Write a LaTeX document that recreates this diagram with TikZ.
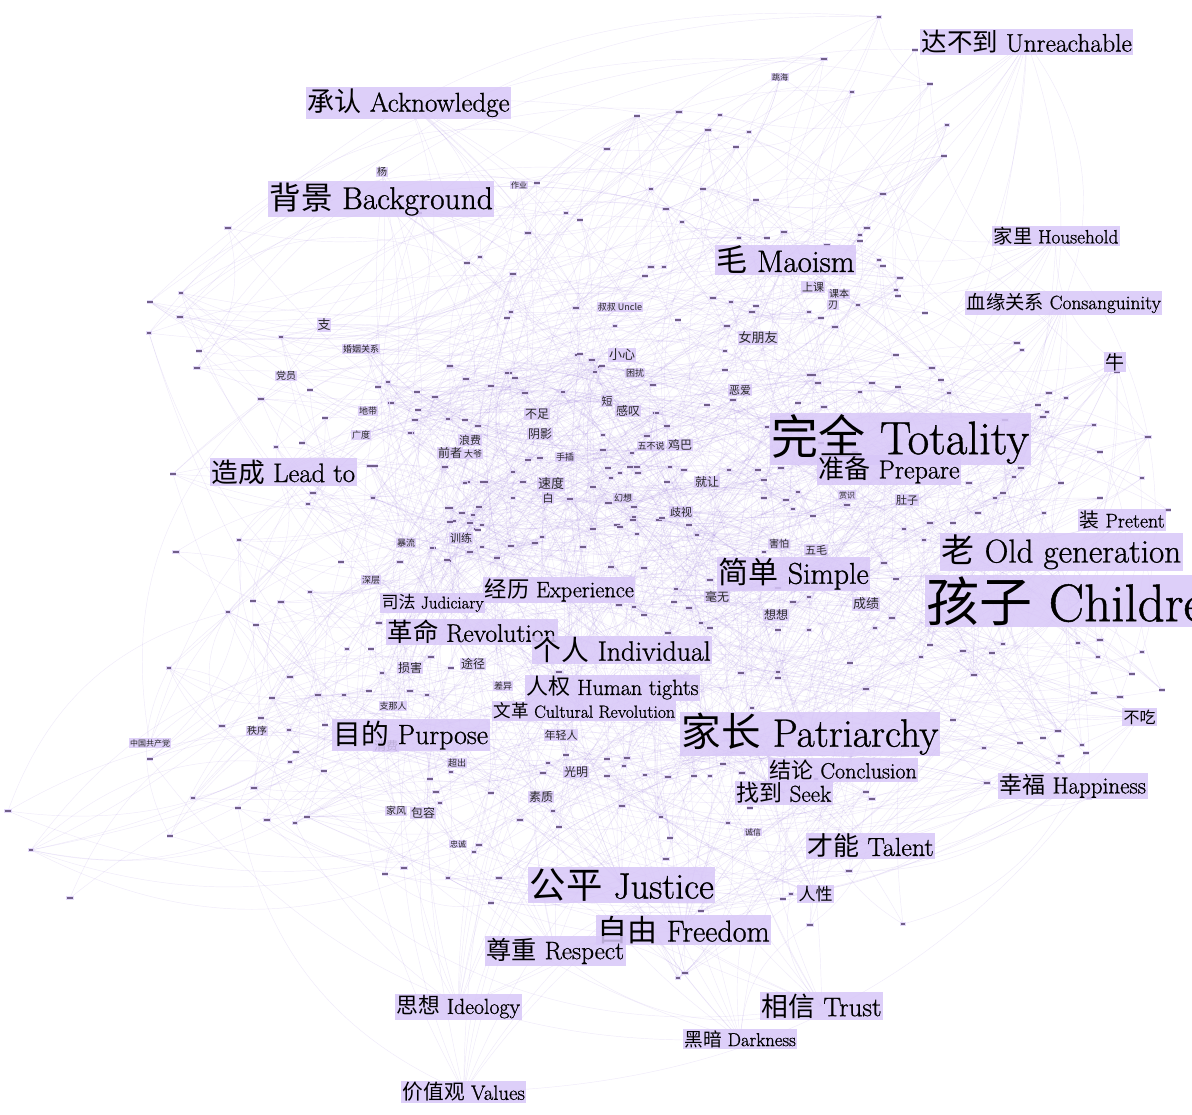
\documentclass[tikz,border=0pt]{standalone}
\usepackage{fontspec}
\setmainfont{Latin Modern Roman}[FakeBold=0.9]
\newfontfamily\cjk{Noto Sans CJK SC}
\pgfdeclarelayer{back}
\pgfdeclarelayer{bg}
\pgfsetlayers{back,bg,main}
\definecolor{boxc}{RGB}{216,199,248}
\definecolor{tinyc}{RGB}{226,214,250}
\definecolor{edgec}{RGB}{160,130,226}
\definecolor{smudge}{RGB}{85,65,110}
\newcommand\fsz[1]{\fontsize{#1}{#1}\selectfont}
\newcommand\zh[1]{{\cjk #1}}
\begin{document}
\begin{tikzpicture}[x=1pt,y=-1pt,
  lbl/.style={fill=boxc, fill opacity=0.85, text opacity=1, inner sep=1.5pt, anchor=west, text=black},
  midl/.style={fill=boxc, fill opacity=0.8, text opacity=1, inner sep=0.8pt, text=black!85},
  tinyn/.style={fill=tinyc, fill opacity=0.9, text opacity=0.8, inner sep=0.8pt, text=smudge},
  edge/.style={draw=edgec, line width=0.45pt, opacity=0.17}]
\useasboundingbox (0,0) rectangle (1192,1115);
\begin{pgfonlayer}{back}
\fill[white] (0,0) rectangle (1192,1115);
\end{pgfonlayer}

% ---------- tiny nodes ----------
\foreach \x/\y [count=\i] in {
537/183,228/228,566/213,580/220,528/233,480/257,467/263,513/274,181/293,150/302,180/317,149/333,199/351,197/368,281/337,419/213,450/367,511/312,507/318,576/308,577/355,591/360,509/373,
879/17,915/50,824/59,852/92,930/84,679/112,720/115,637/116,708/130,749/132,736/147,607/149,947/125,944/156,883/194,651/189,703/189,666/209,682/222,756/200,867/228,860/235,860/241,784/232,739/238,767/238,827/245,879/260,883/266,651/267,664/267,645/276,900/278,896/290,898/296,713/298,731/302,756/306,752/312,809/312,821/318,835/327,858/305,678/320,727/326,615/326,925/313,1017/343,1022/350,896/355,932/368,725/351,725/370,810/375,600/367,
310/390,261/399,390/403,325/418,411/433,276/447,302/443,370/466,444/468,173/474,313/493,308/504,373/497,467/482,486/482,528/460,565/458,451/508,479/507,453/521,476/529,433/548,448/561,468/553,497/557,511/546,543/537,534/544,176/552,239/540,341/562,400/562,310/592,253/601,281/602,228/612,256/625,379/623,347/649,371/649,431/657,382/673,451/668,290/677,169/668,272/698,318/695,344/695,369/691,410/691,427/695,261/718,222/726,289/730,325/725,559/672,551/713,
150/759,296/752,290/762,324/771,254/788,193/798,238/808,267/820,295/823,307/817,8/811,31/850,170/836,70/898,451/772,430/779,436/792,440/803,491/793,520/820,553/811,559/827,543/773,548/763,566/755,479/845,474/852,385/874,404/868,448/878,491/903,499/878,
984/748,1020/743,1061/756,1058/763,1086/753,987/783,1089/798,866/792,872/799,816/779,607/759,627/758,624/766,723/764,742/773,710/776,694/776,668/777,645/775,607/776,622/806,661/817,670/838,666/859,728/823,750/808,849/871,791/894,783/899,810/925,903/924,701/911,685/973,678/978,
941/380,872/383,860/392,813/375,818/383,949/393,898/387,1049/393,1066/398,1038/405,1043/417,1094/425,1117/372,1021/468,1014/477,1061/483,969/483,995/498,1003/493,978/513,1044/513,1100/498,930/523,904/529,953/523,884/563,924/540,896/579,892/618,875/628,930/645,963/651,1003/644,992/653,974/675,921/657,850/663,866/689,778/672,778/678,741/673,752/708,953/720,1058/731,1098/657,1132/674,1094/693,1078/643,
611/567,644/568,676/589,674/602,619/605,634/607,644/615,689/608,701/623,710/628,668/633,764/552,741/570,778/588,809/597,813/582,793/602,809/630,778/630,710/580,696/534,689/525,659/520,634/517,617/525,634/507,607/503,764/498,786/500,793/509,813/516,847/505,729/470,764/480,781/468,798/492,758/470,684/470,670/467,630/467,638/473,611/478,667/482,656/413,667/427,707/405,733/400,731/393,798/403,824/407,767/427,821/443,855/452,
367/348,450/366,466/379,388/382,378/387,491/386,507/373,515/378,525/393,563/392,417/392,435/397,392/403,418/410,415/420,448/419,465/420,478/426,410/433,580/354,592/360,595/372,602/366,653/385,657/413,667/426,647/436,603/435,375/466,445/467,465/483,483/482,523/482,513/472,540/458,603/450,632/453,608/468,637/467,620/473,593/487,570/499,513/498,609/503,628/497,373/498,448/508,462/513,473/515,450/522,470/523,482/525,478/530,403/543,432/548,447/560,470/552,482/547,497/558,535/543,542/537,620/527,633/520,637/534,593/529,583/547,697/535,662/518,
1005/420,1047/412,1100/452,1148/437,1142/478,1168/510,1100/640,1142/652,1162/690,1120/697,1082/745,1043/738}
{
  \pgfmathsetmacro\w{3.5+1.6*mod(\i,3)}
  \node[tinyn] (t\i) at (\x,\y) {\rule{\w pt}{1.8pt}};
  \xdef\ntiny{\i}
}

% ---------- medium labels ----------
\foreach \x/\y/\s/\t [count=\i] in {
758/338/13/女朋友, 622/355/13/小心, 537/414/12/不足, 540/434/12/阴影, 470/440/11/浪费, 450/453/12/前者,
551/484/13/速度, 548/498/11/白, 680/445/12/鸡巴, 628/411/12/感叹, 607/401/11/短, 707/482/12/就让,
681/512/11/歧视, 461/538/11/训练, 410/668/12/损害, 473/664/12/途径, 561/735/11/年轻人, 576/772/12/光明,
541/797/12/素质, 423/813/12/包容, 396/811/10/家风, 776/615/12/想想, 866/604/13/成绩, 717/597/12/毫无,
816/550/11/五毛, 907/500/11/肚子, 813/287/11/上课, 839/294/10/课本, 833/305/10/刃, 324/325/13/支,
361/349/9/婚姻关系, 620/307/9/叔叔 Uncle, 779/544/10/害怕, 382/172/10/杨, 386/746/12/消费, 150/743/8/中国共产党,
257/731/10/秩序, 393/706/9/支那人, 503/686/9/差异, 740/390/11/恶爱, 635/373/9/困扰, 623/498/9/幻想,
371/580/9/深层, 368/411/9/地带, 286/376/10/党员, 458/844/8/忠诚, 753/832/8/诚信, 361/435/9/广度,
406/543/9/暴流, 457/763/9/超出, 519/185/8/作业, 780/77/8/跳海, 473/454/9/大爷, 565/457/9/手插,
847/495/8/赏识, 651/446/9/五不说}
{
  \node[midl, font=\cjk\fsz{\s}] (m\i) at (\x,\y) {\t};
  \xdef\nmid{\i}
}

% ---------- big labels ----------
\node[lbl, font=\fsz{27}] (b1) at (306,103) {\zh{承认} Acknowledge};
\node[lbl, font=\fsz{31.5}] (b2) at (268,199) {\zh{背景} Background};
\node[lbl, font=\fsz{25.5}] (b3) at (920,42) {\zh{达不到} Unreachable};
\node[lbl, font=\fsz{31}] (b4) at (715,260) {\zh{毛} Maoism};
\node[lbl, font=\fsz{19.3}] (b5) at (992,236) {\zh{家里} Household};
\node[lbl, font=\fsz{19.3}] (b6) at (965,303) {\zh{血缘关系} Consanguinity};
\node[lbl, font=\fsz{19}] (b7) at (1104,362) {\zh{牛}};
\node[lbl, font=\fsz{26.7}] (b8) at (210,472) {\zh{造成} Lead to};
\node[lbl, font=\fsz{47}] (b9) at (770,439) {\zh{完全} Totality};
\node[lbl, font=\fsz{26}] (b10) at (817,470) {\zh{准备} Prepare};
\node[lbl, font=\fsz{19.8}] (b11) at (1078,520) {\zh{装} Pretent};
\node[lbl, font=\fsz{33}] (b12) at (940,552) {\zh{老} Old generation};
\node[lbl, font=\fsz{53}] (b13) at (925,601) {\zh{孩子} Children};
\node[lbl, font=\fsz{30}] (b14) at (717,574) {\zh{简单} Simple};
\node[lbl, font=\fsz{22.3}] (b15) at (483,590) {\zh{经历} Experience};
\node[lbl, font=\fsz{17}] (b16) at (380,603) {\zh{司法} Judiciary};
\node[lbl, font=\fsz{25.4}] (b17) at (386,632) {\zh{革命} Revolution};
\node[lbl, font=\fsz{27.8}] (b18) at (532,650) {\zh{个人} Individual};
\node[lbl, font=\fsz{22}] (b19) at (525,688) {\zh{人权} Human tights};
\node[lbl, font=\fsz{17.6}] (b20) at (492,711) {\zh{文革} Cultural Revolution};
\node[lbl, font=\fsz{27.8}] (b21) at (332,735) {\zh{目的} Purpose};
\node[lbl, font=\fsz{39.6}] (b22) at (680,734) {\zh{家长} Patriarchy};
\node[lbl, font=\fsz{22}] (b23) at (768,770) {\zh{结论} Conclusion};
\node[lbl, font=\fsz{23}] (b24) at (735,793) {\zh{找到} Seek};
\node[lbl, font=\fsz{23}] (b25) at (998,786) {\zh{幸福} Happiness};
\node[lbl, font=\fsz{26}] (b26) at (806,846) {\zh{才能} Talent};
\node[lbl, font=\fsz{36.4}] (b27) at (528,885) {\zh{公平} Justice};
\node[lbl, font=\fsz{17}] (b28) at (797,894) {\zh{人性}};
\node[lbl, font=\fsz{30}] (b29) at (596,930) {\zh{自由} Freedom};
\node[lbl, font=\fsz{25.2}] (b30) at (485,951) {\zh{尊重} Respect};
\node[lbl, font=\fsz{21.8}] (b31) at (395,1007) {\zh{思想} Ideology};
\node[lbl, font=\fsz{26.8}] (b32) at (760,1006) {\zh{相信} Trust};
\node[lbl, font=\fsz{18.7}] (b33) at (683,1039) {\zh{黑暗} Darkness};
\node[lbl, font=\fsz{20.7}] (b34) at (401,1092) {\zh{价值观} Values};
\node[lbl, font=\fsz{16}] (b35) at (1122,717) {\zh{不吃}};

% ---------- edges ----------
\begin{pgfonlayer}{bg}
\pgfmathsetseed{11}
\foreach \i in {1,...,\ntiny} {
  \pgfmathtruncatemacro\lo{max(1,\i-35)}
  \pgfmathtruncatemacro\hi{min(\ntiny,\i+35)}
  \pgfmathtruncatemacro\sp{\hi-\lo+1}
  \pgfmathtruncatemacro\j{\lo+mod(\i-\lo+random(1,\sp-1),\sp)}
  \draw[edge] (t\i.center) to[bend left=28] (t\j.center);
  \pgfmathtruncatemacro\j{\lo+mod(\i-\lo+random(1,\sp-1),\sp)}
  \draw[edge] (t\i.center) to[bend left=28] (t\j.center);
  \pgfmathtruncatemacro\odd{mod(\i,4)}
  \ifnum\odd=0
    \pgfmathtruncatemacro\k{1+mod(\i-1+random(1,\ntiny-1),\ntiny)}
    \draw[edge] (t\i.center) to[bend left=28] (t\k.center);
  \fi
}
\foreach \i in {1,...,35} {
  \foreach \r in {1,...,10} {
    \pgfmathtruncatemacro\j{random(1,\ntiny)}
    \draw[edge] (b\i.center) to[bend left=28] (t\j.center);
  }
  \pgfmathtruncatemacro\q{1+mod(\i+random(1,33),35)}
  \draw[edge] (b\i.center) to[bend left=28] (b\q.center);
}
\foreach \i in {1,...,\nmid} {
  \foreach \r in {1,...,4} {
    \pgfmathtruncatemacro\j{random(1,\ntiny)}
    \draw[edge] (m\i.center) to[bend left=28] (t\j.center);
  }
}
\end{pgfonlayer}
\end{tikzpicture}
\end{document}
